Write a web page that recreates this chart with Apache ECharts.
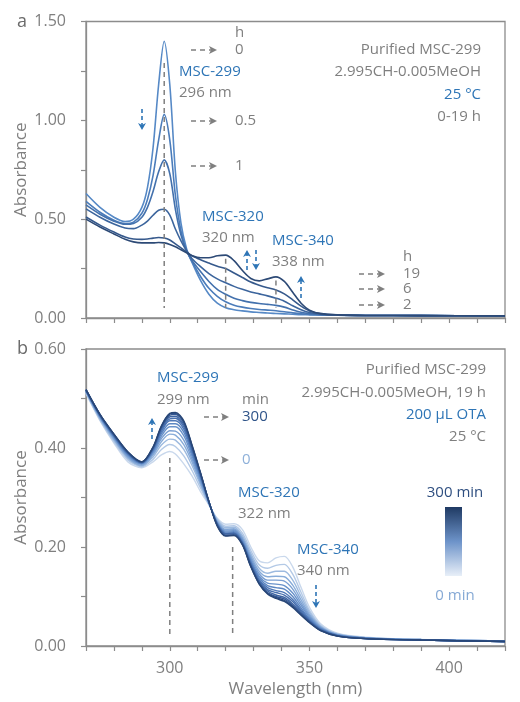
<!DOCTYPE html>
<html><head><meta charset="utf-8">
<script src="https://cdn.jsdelivr.net/npm/echarts@6/dist/echarts.min.js"></script>
<style>html,body{margin:0;padding:0;background:#fff}#c{width:520px;height:702px}</style>
</head><body><div id="c"></div>
<script>
// ---------- Panel a data (absorbance vs wavelength, 0-19 h) ----------
const topWavelengths = [270,275,280,284,287,290,292,294,296,298,300,302,304,306,308,311,314,317,320,323,326,329,332,335,338,341,344,347,350,354,360,370,390,420];
const topHours = ['0 h','0.5 h','1 h','2 h','6 h','19 h'];
const topH0   = [.63,.56,.51,.488,.50,.56,.66,.86,1.18,1.40,1.18,.74,.48,.35,.28,.19,.12,.075,.052,.042,.036,.031,.028,.025,.023,.021,.019,.017,.016,.015,.014,.013,.012,.011];
const topH05  = [.59,.535,.495,.478,.485,.53,.60,.72,.90,1.03,.90,.62,.44,.34,.285,.21,.15,.11,.082,.065,.055,.048,.043,.040,.037,.032,.026,.021,.018,.016,.014,.013,.012,.011];
const topH1   = [.572,.525,.49,.474,.478,.51,.56,.64,.74,.80,.73,.55,.42,.34,.29,.235,.185,.145,.12,.10,.088,.079,.073,.069,.064,.055,.041,.029,.022,.017,.015,.013,.012,.011];
const topH2   = [.552,.51,.475,.455,.452,.47,.49,.52,.545,.55,.52,.45,.39,.34,.30,.26,.225,.198,.178,.16,.145,.132,.122,.112,.10,.085,.062,.042,.028,.019,.015,.013,.012,.011];
const topH6   = [.511,.47,.435,.41,.40,.398,.40,.404,.407,.405,.395,.375,.355,.335,.315,.295,.278,.262,.25,.228,.205,.182,.166,.153,.142,.122,.092,.06,.036,.022,.016,.013,.012,.011];
const topH19  = [.50,.46,.425,.398,.385,.38,.38,.38,.382,.38,.372,.36,.345,.33,.315,.305,.305,.315,.318,.29,.24,.20,.188,.198,.208,.185,.13,.075,.04,.022,.016,.013,.012,.011];
const topPeakNm  = [298, 320, 338];
const topPeakTop = [1.29, 0.30, 0.19];
const topPeakBottom = 0.05;

// ---------- Panel b data (0-300 min after OTA) ----------
const botWavelengths = [270,275,280,285,290,294,297,300,302,305,308,311,314,317,320,323,326,329,332,335,338,341,344,347,350,354,360,370,390,420];
const botMinutes = [0,15,30,45,60,80,100,120,150,180,210,250,300];
const botM0   = [.510,.455,.410,.372,.360,.372,.386,.393,.388,.368,.343,.312,.285,.258,.246,.247,.235,.200,.172,.168,.178,.181,.160,.118,.078,.045,.026,.018,.013,.010];
const botM15  = [.511,.457,.413,.376,.362,.377,.397,.407,.403,.384,.354,.319,.286,.256,.242,.243,.228,.193,.164,.157,.163,.165,.145,.108,.072,.042,.025,.017,.013,.010];
const botM30  = [.513,.459,.416,.379,.364,.382,.406,.418,.416,.397,.364,.325,.287,.254,.239,.240,.223,.187,.157,.147,.151,.151,.133,.100,.068,.040,.024,.017,.013,.010];
const botM45  = [.514,.461,.418,.381,.365,.386,.413,.428,.426,.407,.371,.329,.288,.252,.236,.237,.219,.182,.151,.140,.141,.140,.123,.093,.064,.039,.023,.017,.013,.010];
const botM60  = [.514,.462,.420,.383,.367,.389,.419,.435,.434,.416,.377,.333,.289,.250,.234,.235,.216,.178,.146,.133,.133,.131,.115,.087,.061,.037,.023,.016,.013,.010];
const botM80  = [.515,.463,.422,.385,.368,.392,.424,.443,.443,.425,.383,.337,.290,.249,.232,.233,.213,.174,.141,.127,.125,.122,.107,.082,.058,.036,.022,.016,.012,.009];
const botM100 = [.516,.464,.423,.387,.369,.394,.429,.449,.449,.432,.388,.340,.290,.248,.230,.231,.211,.171,.138,.122,.118,.115,.100,.077,.055,.035,.022,.016,.012,.009];
const botM120 = [.516,.465,.424,.388,.370,.396,.433,.455,.455,.438,.393,.342,.291,.247,.228,.229,.209,.168,.134,.118,.112,.108,.094,.073,.053,.034,.021,.016,.012,.009];
const botM150 = [.517,.466,.425,.389,.370,.398,.437,.459,.460,.443,.396,.345,.291,.246,.227,.228,.208,.166,.132,.114,.108,.103,.090,.070,.051,.033,.021,.015,.012,.009];
const botM180 = [.517,.467,.426,.390,.371,.399,.440,.463,.464,.447,.399,.347,.291,.245,.226,.227,.207,.164,.129,.111,.103,.098,.085,.067,.050,.032,.021,.015,.012,.009];
const botM210 = [.518,.467,.427,.391,.371,.401,.442,.466,.468,.451,.402,.348,.292,.244,.224,.225,.206,.162,.127,.108,.100,.095,.082,.065,.049,.032,.020,.015,.012,.009];
const botM250 = [.518,.468,.428,.392,.372,.401,.444,.469,.470,.453,.404,.349,.292,.243,.223,.224,.205,.161,.126,.106,.098,.092,.080,.063,.048,.031,.020,.015,.012,.009];
const botM300 = [.518,.468,.428,.392,.372,.402,.445,.470,.472,.455,.405,.350,.292,.242,.222,.223,.204,.160,.125,.105,.096,.090,.078,.062,.047,.031,.020,.015,.012,.009];
const botPeakNm  = [300, 322.5];
const botPeakTop = [0.38, 0.20];
const botPeakBottom = 0.018;

// ---------- styles ----------
const FONT = '"Open Sans", "Noto Sans", sans-serif';
const GREY = '#7f7f7f';
const AXIS = '#8c8c8c';
const BLUE = '#2e75b6';
const topColors = ['#5689c6','#4b7cba','#4371ad','#3c659d','#36598c','#2d4a76'];
const botColors = ['#c9d8ec','#b3c9e6','#9dbadf','#88acd9','#7a9fd2','#6a93cb','#5c87c3','#5079b8','#476fae','#3e64a2','#365a95','#2f4f86','#284676'];

const zip = (xs, ys) => xs.map((x, i) => [x, ys[i]]);
const topSets = [topH0, topH05, topH1, topH2, topH6, topH19];
const botSets = [botM0, botM15, botM30, botM45, botM60, botM80, botM100, botM120, botM150, botM180, botM210, botM250, botM300];

const series = [];
topSets.forEach((d, i) => series.push({
  name: topHours[i], type: 'line', xAxisIndex: 0, yAxisIndex: 0,
  data: zip(topWavelengths, d), showSymbol: false, smooth: 0.3,
  lineStyle: { color: topColors[i], width: 1.6 }, itemStyle: { color: topColors[i] }, z: 3
}));
botSets.forEach((d, i) => series.push({
  name: botMinutes[i] + ' min', type: 'line', xAxisIndex: 1, yAxisIndex: 1,
  data: zip(botWavelengths, d), showSymbol: false, smooth: 0.3,
  lineStyle: { color: botColors[i], width: 1.4 }, itemStyle: { color: botColors[i] }, z: 3
}));
topPeakNm.forEach((x, i) => series.push({
  type: 'line', xAxisIndex: 0, yAxisIndex: 0, data: [[x, topPeakTop[i]], [x, topPeakBottom]],
  showSymbol: false, lineStyle: { color: GREY, width: 1.5, type: [5, 4] }, z: 4
}));
botPeakNm.forEach((x, i) => series.push({
  type: 'line', xAxisIndex: 1, yAxisIndex: 1, data: [[x, botPeakTop[i]], [x, botPeakBottom]],
  showSymbol: false, lineStyle: { color: GREY, width: 1.5, type: [5, 4] }, z: 4
}));

// ---------- annotation helpers ----------
const g = [];
function txt(x, y, s, color, opts) {
  opts = opts || {};
  g.push({ type: 'text', x: x, y: y, z: 10, style: {
    text: s, fill: color || GREY, font: (opts.weight || 'normal') + ' ' + (opts.size || 15) + 'px ' + FONT,
    align: opts.align || 'left', verticalAlign: 'middle' } });
}
function greyArrow(x0, x1, y) {
  g.push({ type: 'line', z: 10, shape: { x1: x0, y1: y, x2: x1 - 5, y2: y }, style: { stroke: GREY, lineWidth: 1.5, lineDash: [5, 4] } });
  g.push({ type: 'polygon', z: 10, shape: { points: [[x1 - 8, y - 4], [x1, y], [x1 - 8, y + 4], [x1 - 6, y]] }, style: { fill: GREY } });
}
function blueArrow(x, yFrom, yTo) {
  const dir = yTo > yFrom ? 1 : -1;
  g.push({ type: 'line', z: 10, shape: { x1: x, y1: yFrom, x2: x, y2: yTo - dir * 4 }, style: { stroke: BLUE, lineWidth: 1.6, lineDash: [4, 3] } });
  g.push({ type: 'polygon', z: 10, shape: { points: [[x - 4, yTo - dir * 7], [x, yTo], [x + 4, yTo - dir * 7], [x, yTo - dir * 5]] }, style: { fill: BLUE } });
}

// Panel a annotations
txt(17, 22, 'a', '#6b6b6b', { size: 18 });
txt(235, 33, 'h');
greyArrow(191, 217, 50); txt(235, 50, '0');
txt(179, 72, 'MSC-299', BLUE);
txt(179, 93, '296 nm');
greyArrow(191, 217, 121); txt(235, 121, '0.5');
greyArrow(191, 217, 166); txt(235, 166, '1');
blueArrow(142, 109, 130);
txt(202, 217, 'MSC-320', BLUE);
txt(202, 238, '320 nm');
blueArrow(247, 270, 250);
blueArrow(256, 250, 270);
txt(272, 241, 'MSC-340', BLUE);
txt(272, 262, '338 nm');
blueArrow(301, 298, 276);
txt(403, 257, 'h');
greyArrow(359, 385, 274); txt(403, 274, '19');
greyArrow(359, 385, 289); txt(403, 289, '6');
greyArrow(359, 385, 305); txt(403, 305, '2');
txt(481, 50, 'Purified MSC-299', GREY, { align: 'right' });
txt(481, 72, '2.995CH-0.005MeOH', GREY, { align: 'right' });
txt(481, 95, '25 °C', BLUE, { align: 'right' });
txt(481, 117, '0-19 h', GREY, { align: 'right' });

// Panel b annotations
txt(17, 349, 'b', '#6b6b6b', { size: 18 });
txt(157, 378, 'MSC-299', BLUE);
txt(157, 400, '299 nm');
txt(242, 400, 'min');
greyArrow(204, 229, 417); txt(242, 417, '300', '#2f5489');
greyArrow(204, 229, 460); txt(242, 460, '0', '#8eb0d9');
blueArrow(152, 439, 418);
txt(238, 493, 'MSC-320', BLUE);
txt(238, 514, '322 nm');
txt(297, 550, 'MSC-340', BLUE);
txt(297, 571, '340 nm');
blueArrow(316, 585, 608);
txt(486, 370, 'Purified MSC-299', GREY, { align: 'right' });
txt(486, 393, '2.995CH-0.005MeOH, 19 h', GREY, { align: 'right' });
txt(486, 415, '200 μL OTA', BLUE, { align: 'right' });
txt(486, 437, '25 °C', GREY, { align: 'right' });
txt(455, 493, '300 min', '#2f4f80', { align: 'center' });
txt(455, 596, '0 min', '#86a9d5', { align: 'center' });
g.push({ type: 'rect', z: 10, shape: { x: 445, y: 507, width: 17, height: 69 },
  style: { fill: new echarts.graphic.LinearGradient(0, 0, 0, 1, [
    { offset: 0, color: '#1f3a63' }, { offset: 0.5, color: '#6d93c9' }, { offset: 1, color: '#e8eff8' }]) } });

// ---------- axes ----------
function xAx(grid, showLabels) {
  return {
    type: 'value', gridIndex: grid, min: 270, max: 420, interval: 10,
    axisLine: { show: true, lineStyle: { color: AXIS, width: 1.3 } },
    axisTick: { show: true, length: 5, lineStyle: { color: AXIS, width: 1.2 } },
    splitLine: { show: false },
    axisLabel: { show: showLabels, margin: 14, color: GREY, fontSize: 16, fontFamily: FONT,
      formatter: v => (Math.round(v) % 50 === 0 ? String(Math.round(v)) : '') },
    name: showLabels ? 'Wavelength (nm)' : '', nameLocation: 'middle', nameGap: 35, nameMoveOverlap: false,
    nameTextStyle: { color: GREY, fontSize: 17, fontFamily: FONT }
  };
}
function yAx(grid, max, interval, labelStep) {
  return {
    type: 'value', gridIndex: grid, min: 0, max: max, interval: interval,
    axisLine: { show: true, lineStyle: { color: AXIS, width: 1.3 } },
    axisTick: { show: true, length: 5, lineStyle: { color: AXIS, width: 1.2 } },
    splitLine: { show: false },
    axisLabel: { margin: 20, color: GREY, fontSize: 16, fontFamily: FONT,
      formatter: v => (Math.round(v * 100) % Math.round(labelStep * 100) === 0 ? v.toFixed(2) : '') },
    name: 'Absorbance', nameLocation: 'middle', nameGap: 56, nameMoveOverlap: false,
    nameTextStyle: { color: GREY, fontSize: 17, fontFamily: FONT }
  };
}

const chart = echarts.init(document.getElementById('c'), null, { renderer: 'canvas' });
chart.setOption({
  animation: false,
  backgroundColor: '#fff',
  grid: [
    { left: 86, right: 15, top: 21.5, height: 296.5, show: true, borderColor: AXIS, borderWidth: 1.3 },
    { left: 86, right: 15, top: 349, height: 297, show: true, borderColor: AXIS, borderWidth: 1.3 }
  ],
  xAxis: [xAx(0, false), xAx(1, true)],
  yAxis: [yAx(0, 1.5, 0.25, 0.5), yAx(1, 0.6, 0.1, 0.2)],
  series: series,
  graphic: g
});
</script>
</body></html>
